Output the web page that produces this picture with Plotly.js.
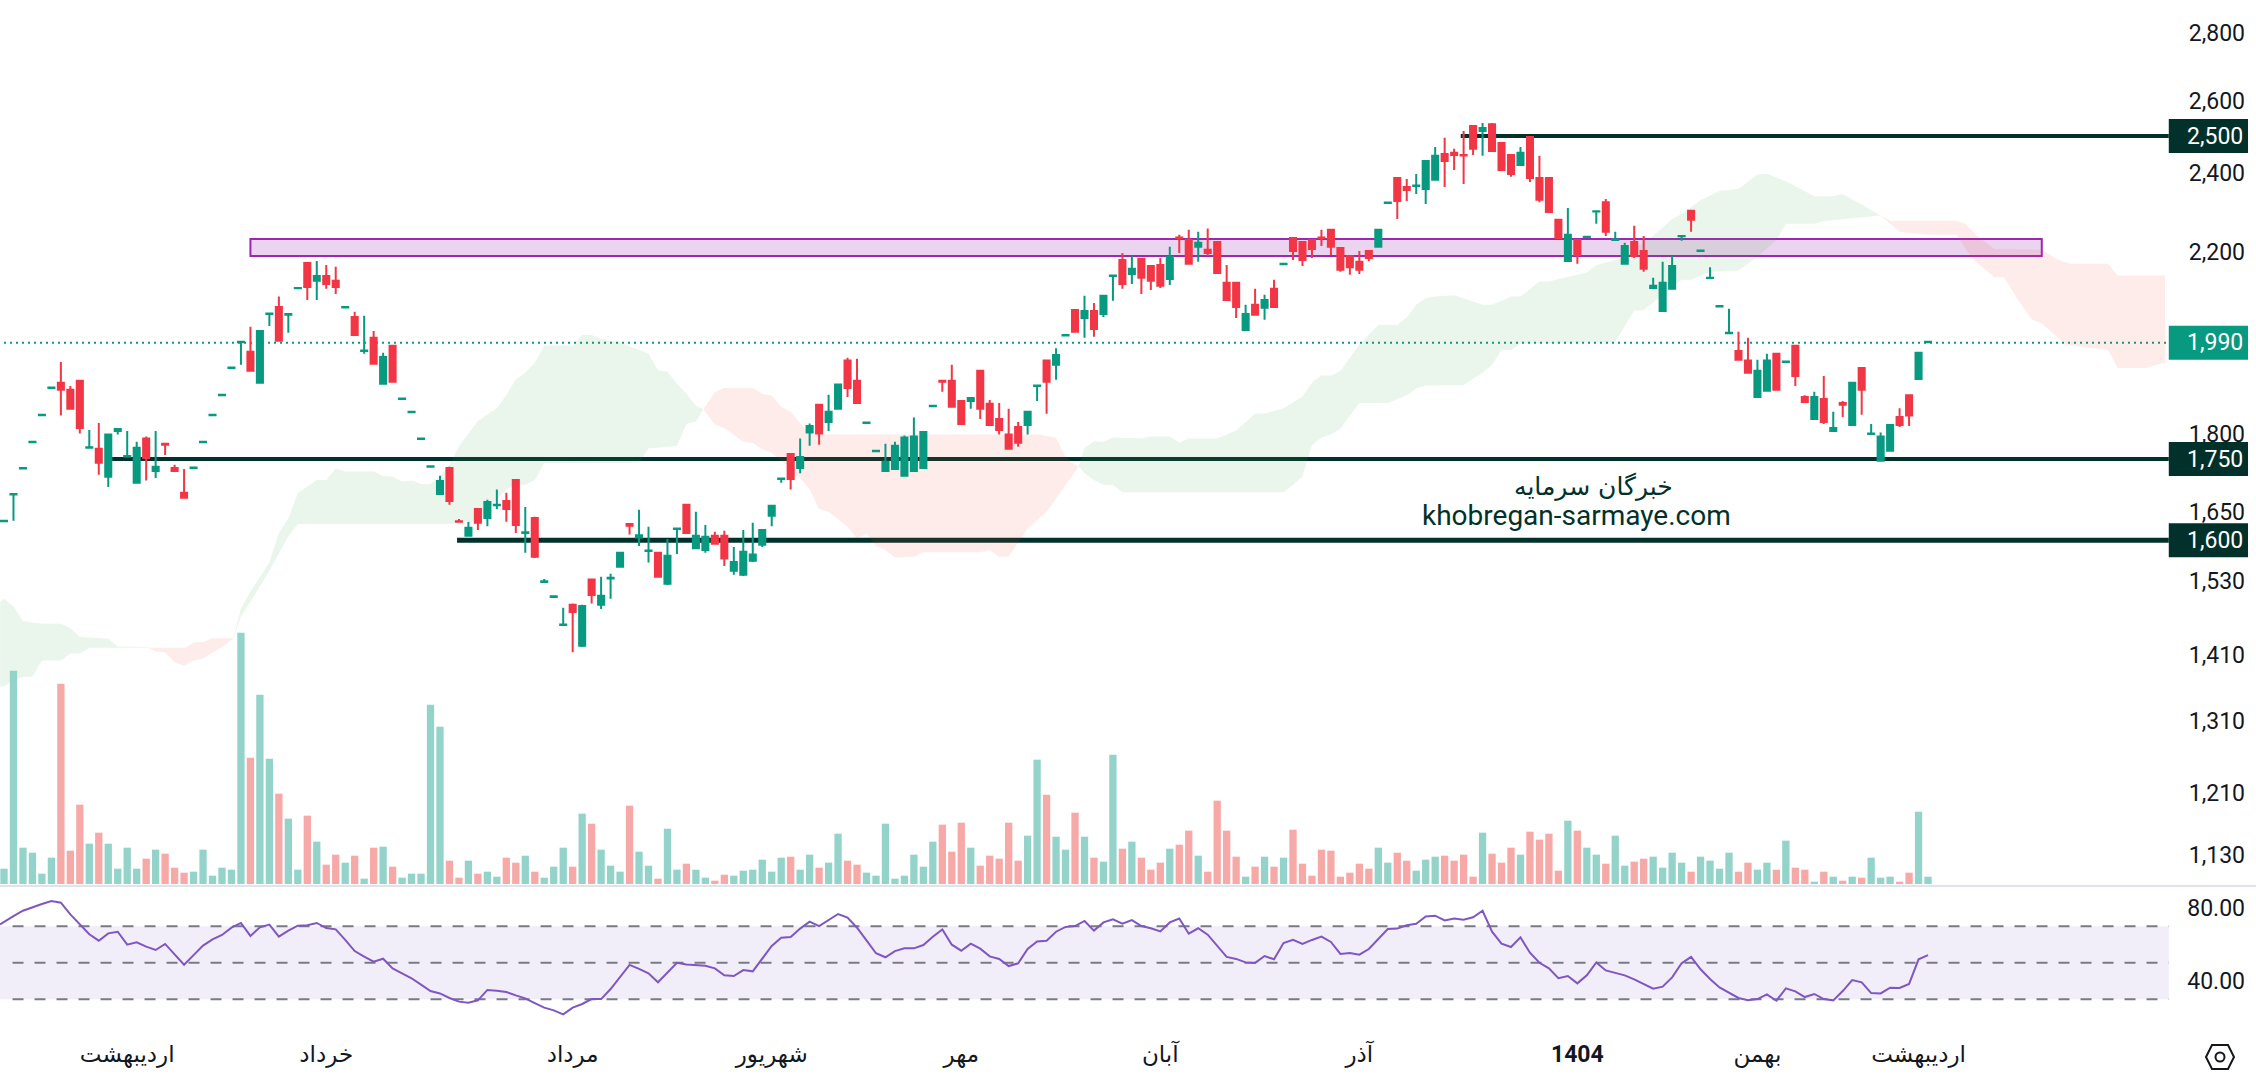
<!DOCTYPE html>
<html>
<head>
<meta charset="utf-8">
<script src="https://cdn.plot.ly/plotly-3.0.1.min.js"></script>
<style>html,body{margin:0;padding:0;background:#fff;overflow:hidden}#chart{width:2256px;height:1080px}</style>
</head>
<body>
<div id="chart"></div>
<script>
const candleOpen = [
1634,1683,1732,1783,1837,1893,1904,1889,1908,1772,
1770,1716,1805,1755,1705,1790,1727,1780,1733,1686,
1733,1783,1837,1878,1935,1991,1970,1904,2054,2070,
2052,2113,2173,2131,2142,2131,2069,2047,1972,2001,
1902,1983,1870,1843,1789,1735,1684,1733,1634,1608,
1656,1640,1663,1671,1710,1613,1640,1528,1503,1457,
1490,1424,1532,1490,1534,1554,1629,1605,1581,1578,
1525,1620,1664,1586,1583,1608,1608,1547,1540,1564,
1592,1644,1712,1760,1733,1802,1858,1823,1850,1951,
1908,1821,1765,1727,1731,1718,1727,1733,1855,1908,
1908,1866,1866,1929,1860,1829,1798,1813,1817,1897,
1951,1942,2006,2063,2045,2061,2054,2142,2180,2147,
2183,2166,2168,2135,2235,2229,2212,2205,2224,2126,
2126,2018,2075,2068,2112,2170,2234,2224,2229,2235,
2254,2209,2190,2176,2202,2212,2322,2387,2363,2366,
2358,2382,2451,2454,2448,2528,2514,2533,2481,2448,
2421,2497,2387,2387,2279,2178,2229,2236,2300,2324,
2229,2171,2224,2202,2114,2061,2112,2238,2302,2202,
2137,2071,2011,1972,1951,1874,1887,1966,1948,1983,
1874,1829,1870,1805,1862,1817,1935,1799,1747,1766,
1833,1878,1912,1991];
const candleHigh = [
1635,1684,1733,1784,1838,1894,1948,1897,1909,1807,
1821,1799,1810,1805,1784,1794,1805,1781,1739,1731,
1734,1784,1838,1879,1936,1992,2025,2018,2056,2094,
2056,2114,2175,2178,2168,2164,2072,2059,2050,2016,
1968,1985,1871,1844,1790,1736,1718,1735,1638,1633,
1658,1673,1692,1686,1712,1660,1642,1533,1504,1485,
1492,1490,1534,1537,1542,1580,1630,1655,1624,1580,
1602,1622,1666,1651,1627,1615,1617,1588,1618,1631,
1620,1664,1713,1762,1790,1820,1860,1879,1902,1957,
1955,1822,1766,1780,1784,1796,1832,1805,1856,1909,
1942,1868,1874,1931,1868,1862,1850,1823,1846,1900,
1953,1978,2007,2065,2096,2079,2098,2145,2197,2191,
2185,2168,2185,2212,2242,2254,2249,2257,2226,2168,
2128,2075,2112,2098,2133,2171,2236,2226,2231,2254,
2256,2211,2192,2202,2204,2256,2323,2389,2384,2397,
2434,2470,2495,2465,2514,2530,2536,2536,2483,2451,
2470,2500,2446,2389,2281,2309,2231,2237,2303,2332,
2249,2222,2264,2239,2138,2176,2190,2240,2304,2203,
2163,2072,2066,2014,2001,1953,1966,1968,1949,1985,
1878,1885,1918,1844,1866,1906,1937,1819,1802,1819,
1851,1880,1970,1992];
const candleLow = [
1634,1635,1732,1783,1837,1893,1836,1848,1800,1771,
1720,1697,1798,1755,1703,1709,1714,1758,1726,1675,
1733,1783,1837,1878,1935,1942,1927,1902,2027,1992,
2012,2113,2086,2086,2112,2100,2069,2005,1966,1942,
1900,1904,1870,1843,1789,1735,1683,1664,1632,1606,
1618,1625,1656,1633,1613,1578,1569,1528,1503,1457,
1414,1422,1492,1483,1500,1552,1610,1590,1561,1535,
1523,1576,1611,1584,1578,1592,1555,1540,1538,1562,
1588,1625,1705,1692,1723,1776,1778,1805,1848,1874,
1860,1821,1765,1726,1729,1716,1725,1731,1855,1885,
1852,1817,1850,1829,1815,1798,1768,1774,1798,1866,
1840,1910,2006,2012,2001,2003,2047,2084,2112,2123,
2100,2109,2114,2121,2197,2169,2176,2190,2147,2084,
2045,2016,2050,2041,2068,2170,2180,2166,2185,2214,
2192,2152,2145,2147,2178,2210,2322,2281,2327,2345,
2319,2380,2363,2408,2371,2448,2446,2457,2406,2390,
2419,2376,2324,2297,2232,2176,2171,2236,2269,2239,
2229,2169,2185,2152,2112,2059,2110,2227,2249,2202,
2137,2071,2011,1951,1923,1872,1885,1887,1948,1897,
1862,1827,1819,1803,1833,1815,1838,1799,1745,1764,
1813,1815,1910,1991];
const candleClose = [
1635,1684,1733,1784,1838,1894,1889,1850,1811,1773,
1743,1798,1809,1756,1772,1752,1735,1778,1727,1677,
1734,1784,1838,1879,1936,1992,1929,2016,2055,1994,
2054,2114,2116,2142,2123,2116,2070,2007,1973,1944,
1959,1906,1871,1844,1790,1736,1708,1671,1633,1622,
1631,1669,1664,1656,1627,1614,1571,1529,1504,1458,
1478,1488,1506,1505,1535,1578,1626,1609,1582,1537,
1573,1621,1613,1608,1606,1594,1568,1562,1580,1575,
1618,1662,1713,1712,1754,1815,1800,1844,1900,1893,
1862,1822,1766,1745,1776,1792,1794,1803,1856,1906,
1854,1819,1872,1850,1817,1807,1770,1782,1844,1898,
1906,1963,2007,2014,2061,2020,2096,2143,2123,2159,
2138,2131,2119,2188,2234,2171,2222,2197,2149,2086,
2070,2054,2052,2086,2070,2171,2202,2180,2207,2234,
2212,2157,2163,2157,2185,2254,2323,2327,2355,2367,
2432,2446,2432,2448,2447,2465,2522,2459,2408,2397,
2454,2387,2330,2299,2234,2242,2192,2237,2301,2249,
2230,2214,2190,2159,2119,2126,2166,2239,2279,2203,
2138,2072,2012,1953,1925,1929,1951,1889,1949,1918,
1864,1874,1823,1811,1858,1904,1889,1800,1794,1817,
1817,1836,1968,1992];
const volume = [
46,640,109,94,31,79,601,100,238,121,
154,121,46,109,46,76,103,91,49,34,
37,103,25,49,43,754,379,568,376,271,
196,43,205,127,58,88,64,85,16,109,
112,52,19,31,31,538,472,70,19,70,
31,37,22,79,64,85,37,19,52,109,
52,211,181,103,55,37,235,97,55,16,
166,43,61,43,19,10,28,25,40,43,
73,37,79,82,43,88,49,64,151,70,
58,34,25,181,16,25,88,52,127,178,
97,184,109,55,85,76,184,70,145,373,
268,142,103,214,142,79,67,388,106,127,
79,43,64,106,118,160,85,37,250,160,
82,22,52,82,52,79,163,61,25,103,
100,22,34,61,46,109,64,94,70,40,
73,82,85,70,88,22,154,91,64,109,
88,157,133,151,40,190,160,109,88,61,
145,55,67,76,82,49,94,64,37,82,
70,46,94,37,64,43,64,43,130,49,
43,7,37,22,10,22,19,79,19,22,
7,34,217,22];
const rsi = [
72.5,75.6,78.5,80.5,82.2,83.8,82.9,76.5,71.1,65.6,
62.1,66.1,67,59.9,61.2,58.8,57,60.3,54.6,48.9,
54.2,59.4,62.8,65.2,69.2,71.8,64.7,69.4,70.9,64.3,
67.6,70.3,70.5,71.8,69,68.3,62.5,56.4,53.3,50.6,
52.2,46.9,44.2,41.5,38,34.5,33.2,30.7,28.7,28.1,
29.4,35.1,34.7,34,32.1,30.5,27.9,25.4,23.9,21.7,
25.4,27.4,30.1,30.1,35.6,42.2,48.8,46.6,44.2,39.3,
44.7,50,49.1,48.8,48.4,46.9,43.1,42.7,46,45.3,
52.4,59.2,63.7,64.1,68.7,72.5,70.1,73.4,76.7,74.7,
69.2,62.3,55.2,53,56.4,57.9,57.9,59.7,64.3,68.3,
59.9,56.6,60.5,57.7,53.5,52.1,48.2,49.7,57.5,61.6,
62.1,67,69.6,70.1,72.9,67.6,72.1,73.8,71.4,73.4,
70.1,68.9,67.2,72.1,74.2,65.9,68.9,65.4,59.2,53.2,
52.1,50.2,49.9,53.7,51.9,60.8,62.6,60.3,62.5,64.3,
61.4,54.8,55.3,54.4,57.5,63.2,68.5,68.7,70.5,71.4,
75.4,75.8,73.2,74.2,73.6,74.9,78.5,67,60.5,58.6,
63.9,55.5,50,46.9,41.5,42.7,38.7,43.1,50.2,45.8,
44.4,43.1,40.9,38.4,35.8,36.9,42,49.7,53.2,46.4,
41.1,36.5,33.6,30.7,29.4,30.1,32.7,29.2,36,34.3,
31.2,32.9,30.1,29.4,34.5,40.5,39.3,33.4,33.2,36.3,
36.2,38.4,51.9,54.2];
const rsiLeadX = -0.422, rsiLead = 71;

// Ichimoku cloud edges, read by bar number
const greenA_topX = [-0.4,0,1,2,4,6,7,8,11,12,15.2];
const greenA_top  = [1495,1500,1487,1463,1459,1459,1452,1438,1435,1423,1422];
const greenA_lowX = [-0.4,0,1,2,3,4,6,7,8,9,15.2];
const greenA_low  = [1361,1362,1371,1376,1376,1401,1401,1412,1412,1421,1421];

const redA_topX = [15.2,19.2,20,21,22,24,24.2];
const redA_top  = [1421,1421,1429,1430,1436,1436,1436];
const redA_lowX = [15.2,16,17,18,19,20,21,23,24.2];
const redA_low  = [1421,1415,1414,1398,1393,1401,1404,1422,1436];

const greenB_topX = [24.2,25,26,27,28,29,30,31,33,34,35,36,39,40,41,42,43,44,45,46,47,48,49,50,52,53,54,55,56,57,60,61,62,63,65,66,68,69,70,71,72,73,73.8];
const greenB_top  = [1436,1484,1512,1537,1561,1613,1639,1685,1710,1710,1732,1726,1726,1717,1716,1707,1709,1702,1702,1717,1739,1775,1801,1825,1851,1878,1911,1925,1946,1984,1984,2007,2007,1998,1991,1982,1966,1930,1927,1902,1881,1856,1849];
const greenB_lowX = [24.2,25,26,27,28,29,30,31,47,49,50,52,53,54,55,56,57,67,68,69,71,72,73,73.8];
const greenB_low  = [1436,1471,1495,1520,1547,1577,1607,1629,1629,1634,1634,1673,1692,1701,1701,1710,1742,1743,1771,1772,1776,1819,1824,1849];

const redB_topX = [73.8,75,76,79,80,81,82,83,84,85,86,109,110,111,112,113,113.4];
const redB_top  = [1849,1884,1893,1893,1881,1877,1854,1844,1821,1801,1798,1798,1795,1792,1754,1739,1736];
const redB_lowX = [73.8,75,76,78,79,80,81,82,83,85,86,87,88,89,90,91,92,93,94,96,97,103,104,105,106,108,110,112,113.4];
const redB_low  = [1849,1818,1811,1784,1782,1769,1762,1747,1733,1693,1656,1651,1638,1624,1603,1612,1590,1583,1570,1571,1579,1579,1583,1571,1571,1621,1651,1701,1736];

const greenC_topX = [113.4,114,115,116,117,120,121,123,124,125,128,130,132,133,135,137,138,139,140,141,143,145,147,148,149,150,151,153,156,157,159,160,162,163,167,168,170,171,172,174,176,177,179,181,183,185,186,188,191,193,194,198];
const greenC_top  = [1736,1771,1785,1784,1792,1790,1794,1794,1782,1790,1790,1806,1840,1840,1851,1875,1904,1919,1919,1928,1986,2029,2030,2046,2075,2090,2094,2097,2075,2075,2094,2094,2129,2129,2150,2168,2180,2188,2207,2239,2281,2294,2329,2353,2358,2396,2398,2378,2339,2339,2345,2290];
const greenC_lowX = [113.4,114,115,116,117,118,135,136,137,138,139,140,141,142,143,146,148,149,150,154,156,157,158,159,160,170,172,173,175,177,178,180,183,185,187,188,191,192,198];
const greenC_low  = [1736,1723,1710,1701,1701,1687,1687,1701,1717,1777,1792,1798,1810,1835,1862,1862,1878,1892,1898,1899,1925,1942,1974,1974,1988,1992,2062,2063,2098,2133,2133,2152,2155,2188,2229,2269,2269,2276,2290];

const redC_topX = [198,199,206,207,208,210,215,216.6,218,222,223,228];
const redC_top  = [2290,2277,2277,2269,2242,2207,2205,2182,2171,2171,2143,2143];
const redC_lowX = [198,200,203,206,207,208,210,211,212.5,214,215,217.5,222,223,226,228];
const redC_low  = [2290,2249,2242,2242,2205,2177,2139,2139,2086,2041,2033,1986,1974,1935,1935,1947];

const priceTicks = [2800,2600,2400,2200,1800,1650,1530,1410,1310,1210,1130];
const priceTickText = ['2,800','2,600','2,400','2,200','1,800','1,650','1,530','1,410','1,310','1,210','1,130'];
const rsiTicks = [80,40];
const rsiTickText = ['80.00','40.00'];
const rsiLevels = [70,50,30];
const monthTicks = [13,34,60,81,101,122,143,166,185,202];
const monthText = ['اردیبهشت','خرداد','مرداد','شهریور','مهر','آبان','آذر','<b>1404</b>','بهمن','اردیبهشت'];

const levels = [{v:2500,from:153.7,text:'2,500',w:4},{v:1750,from:11.4,text:'1,750',w:4},{v:1600,from:47.8,text:'1,600',w:5}];
const lastPrice = 1990, lastText = '1,990';
const zoneLow = 2190, zoneHigh = 2231, zoneFrom = 26, zoneTo = 215;
const levelEnd = 228.4;

const W = 2256, H = 1080, marginB = 40, marginR = 8;
const plotW = W - marginR, plotH = H - marginB;
const barPx = 9.478, firstPx = 4;
const DARK = '#01312a', TEAL = '#089981', RED = '#f23645';
const INK = '#131722';
const xs = candleOpen.map((_, i) => i);

function cloud(lowX, low, topX, top, color) {
  return [
    {type:'scatter', mode:'lines', line:{width:0, color:'rgba(0,0,0,0)'}, x:lowX, y:low, yaxis:'y', hoverinfo:'skip', showlegend:false},
    {type:'scatter', mode:'lines', line:{width:0, color:'rgba(0,0,0,0)'}, x:topX, y:top, yaxis:'y', fill:'tonexty', fillcolor:color, hoverinfo:'skip', showlegend:false}
  ];
}
const GC = 'rgba(67,160,71,0.11)', RC = 'rgba(244,67,54,0.10)';

const traces = [
  ...cloud(greenA_lowX, greenA_low, greenA_topX, greenA_top, GC),
  ...cloud(redA_lowX, redA_low, redA_topX, redA_top, RC),
  ...cloud(greenB_lowX, greenB_low, greenB_topX, greenB_top, GC),
  ...cloud(redB_lowX, redB_low, redB_topX, redB_top, RC),
  ...cloud(greenC_lowX, greenC_low, greenC_topX, greenC_top, GC),
  ...cloud(redC_lowX, redC_low, redC_topX, redC_top, RC),
  {type:'bar', x:xs, y:volume, yaxis:'y2', hoverinfo:'skip', showlegend:false,
   marker:{color:xs.map(i => candleClose[i] >= candleOpen[i] ? '#94d3ca' : '#f7a9a8'), line:{width:0}}},
  {type:'candlestick', x:xs, open:candleOpen, high:candleHigh, low:candleLow, close:candleClose, yaxis:'y4',
   hoverinfo:'skip', showlegend:false, whiskerwidth:0,
   increasing:{line:{color:TEAL,width:2}, fillcolor:TEAL},
   decreasing:{line:{color:RED,width:2}, fillcolor:RED}},
  {type:'scatter', mode:'lines', x:[rsiLeadX].concat(xs), y:[rsiLead].concat(rsi), yaxis:'y3', hoverinfo:'skip', showlegend:false,
   line:{color:'#7e57c2', width:2}}
];

const logTop = 3.46315, logBottom = 3.03834;
const priceDomain = [(plotH-886)/plotH, 1];

const shapes = [];
// zone
shapes.push({type:'rect', layer:'below', xref:'x', yref:'y', x0:zoneFrom, x1:zoneTo, y0:zoneLow, y1:zoneHigh,
  fillcolor:'rgba(156,39,176,0.2)', line:{color:'#9c27b0', width:2}});
// horizontal levels
levels.forEach(l => shapes.push({type:'line', layer:'below', xref:'x', yref:'y', x0:l.from, x1:levelEnd, y0:l.v, y1:l.v,
  line:{color:DARK, width:l.w}}));
// last price
shapes.push({type:'line', layer:'below', xref:'x', yref:'y', x0:0, x1:levelEnd, y0:lastPrice, y1:lastPrice,
  line:{color:TEAL, width:2, dash:'2px,4px'}});
// RSI band + guide lines
shapes.push({type:'rect', layer:'below', xref:'x', yref:'y3', x0:-0.422, x1:levelEnd, y0:rsiLevels[2], y1:rsiLevels[0],
  fillcolor:'rgba(126,87,194,0.1)', line:{width:0}});
rsiLevels.forEach(v => shapes.push({type:'line', layer:'between', xref:'x', yref:'y3', x0:0.9, x1:levelEnd, y0:v, y1:v,
  line:{color:'#787b86', width:2, dash:'11px,11px'}}));
// pane separator
const sepY = (plotH-886)/plotH;
shapes.push({type:'line', layer:'above', xref:'paper', yref:'paper', x0:0, x1:W/plotW, y0:sepY, y1:sepY,
  line:{color:'#e0e3eb', width:2}});
// price badges
const badge = 'M0,-17 H83 Q86,-17 86,-14 V14 Q86,17 83,17 H0 Z';
levels.concat([{v:lastPrice}]).forEach(l => shapes.push({type:'path', layer:'above', xref:'x', yref:'y',
  xsizemode:'pixel', ysizemode:'pixel', xanchor:levelEnd, yanchor:l.v, path:badge,
  fillcolor:l.v === lastPrice ? TEAL : DARK, line:{width:0}}));
// settings icon
const iconX = 2220/plotW, iconY = (plotH-1057)/plotH;
shapes.push({type:'path', layer:'above', xref:'paper', yref:'paper', xsizemode:'pixel', ysizemode:'pixel',
  xanchor:iconX, yanchor:iconY, path:'M-14,0 L-8,12 L8,12 L14,0 L8,-12 L-8,-12 Z', line:{color:INK, width:2}, fillcolor:'rgba(0,0,0,0)'});
shapes.push({type:'circle', layer:'above', xref:'paper', yref:'paper', xsizemode:'pixel', ysizemode:'pixel',
  xanchor:iconX, yanchor:iconY, x0:-4.5, x1:4.5, y0:-4.5, y1:4.5, line:{color:INK, width:2}, fillcolor:'rgba(0,0,0,0)'});

const labelFont = {family:'Roboto, sans-serif', size:23, color:INK};
const annotations = [];
levels.concat([{v:lastPrice,text:lastText}]).forEach(l => annotations.push({
  xref:'paper', yref:'y', x:2245/plotW, y:Math.log10(l.v), xanchor:'right', yanchor:'middle',
  text:l.text, showarrow:false, font:{family:'Roboto, sans-serif', size:23, color:'#ffffff'}}));
annotations.push({xref:'paper', yref:'paper', x:1593/plotW, y:(plotH-486)/plotH, xanchor:'center', yanchor:'middle',
  text:'خبرگان سرمایه', showarrow:false, font:{family:'DejaVu Sans, sans-serif', size:25, color:DARK}});
annotations.push({xref:'paper', yref:'paper', x:1576/plotW, y:(plotH-515)/plotH, xanchor:'center', yanchor:'middle',
  text:'khobregan-sarmaye.com', showarrow:false, font:{family:'Roboto, sans-serif', size:28, color:DARK}});

const layout = {
  width:W, height:H, paper_bgcolor:'#ffffff', plot_bgcolor:'#ffffff',
  margin:{l:0, r:marginR, t:0, b:marginB, pad:0}, showlegend:false, hovermode:false, dragmode:false,
  bargap:0.23, boxgap:0.2, boxgroupgap:0.2,
  xaxis:{type:'linear', anchor:'y3', range:[-firstPx/barPx, (plotW-firstPx)/barPx], showgrid:false, zeroline:false, showline:false,
    rangeslider:{visible:false}, tickmode:'array', tickvals:monthTicks, ticktext:monthText, ticks:'', ticklabelstandoff:-2,
    tickfont:{family:'Roboto, DejaVu Sans, sans-serif', size:23, color:INK}},
  yaxis:{type:'log', domain:priceDomain, range:[logBottom, logTop], side:'right', showgrid:false, zeroline:false, showline:false,
    tickmode:'array', tickvals:priceTicks, ticktext:priceTickText, ticklabelposition:'inside', ticks:'', tickfont:labelFont},
  yaxis2:{domain:priceDomain, overlaying:'y', range:[-6,2652], visible:false, fixedrange:true},
  yaxis4:{type:'log', overlaying:'y', range:[logBottom, logTop], visible:false, fixedrange:true},
  yaxis3:{domain:[0,(plotH-888)/plotH], range:[7.67,90.96], side:'right', showgrid:false, zeroline:false, showline:false,
    tickmode:'array', tickvals:rsiTicks, ticktext:rsiTickText, ticklabelposition:'inside', ticks:'', tickfont:labelFont},
  shapes, annotations
};
Plotly.newPlot('chart', traces, layout, {staticPlot:true, displayModeBar:false});
</script>
</body>
</html>
